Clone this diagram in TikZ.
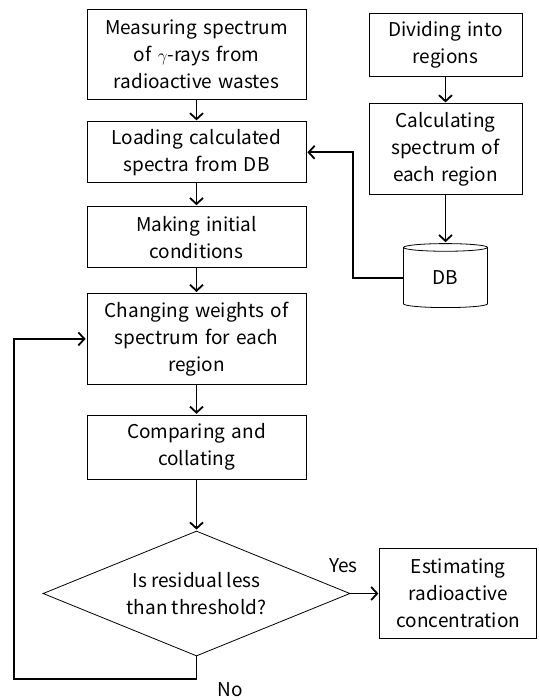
\documentclass[tikz,border=0pt]{standalone}
\usepackage{fontspec}
\setmainfont{Noto Sans CJK JP}
\usetikzlibrary{arrows.meta,shapes.geometric,positioning}

\begin{document}
\begin{tikzpicture}[x=1pt,y=1pt,>={Straight Barb[length=6pt,width=13pt]},
        font=\fontsize{19}{27}\selectfont,
        proc/.style={draw,line width=0.8pt,align=center,inner sep=0pt,
          text width=#1},
        proc/.default=219pt,
        line/.style={->,line width=1.8pt,shorten >=1pt}]

  \useasboundingbox (0,0) rectangle (538,-700);

  % main flow
  \node[proc,minimum height=90pt] (meas) at (196.5,-54)
    {Measuring spectrum\\of~$\gamma$-rays from\\radioactive wastes};
  \node[proc,minimum height=61pt] (load) [below=22pt of meas]
    {Loading calculated\\spectra from DB};
  \node[proc,minimum height=61pt] (init) [below=23pt of load]
    {Making initial\\conditions};
  \node[proc,minimum height=91pt] (chg) [below=25pt of init]
    {Changing weights of\\spectrum for each\\region};
  \node[proc,minimum height=64pt] (cmp) [below=30pt of chg]
    {Comparing and\\collating};
  \node[draw,diamond,aspect=2.46,line width=0.8pt,align=center,inner sep=0pt,
        minimum width=307pt,minimum height=125pt] (dec) [below=51pt of cmp]
    {Is residual less\\than threshold?};
  \node[proc=157pt,minimum height=90pt] (est) [right=29pt of dec]
    {Estimating\\radioactive\\concentration};

  % database branch
  \node[proc=153pt,minimum height=63pt] (div) at (445.5,-44.5)
    {Dividing into\\regions};
  \node[proc=153pt,minimum height=91pt] (calc) [below=27pt of div]
    {Calculating\\spectrum of\\each region};
  \node[draw,cylinder,shape border rotate=90,aspect=0.3,line width=0.8pt,
        minimum width=84pt,minimum height=64pt,inner sep=0pt] (db)
    [below=48pt of calc] {DB};

  \path (meas) edge[line] (load)
        (load) edge[line] (init)
        (init) edge[line] (chg)
        (chg)  edge[line] (cmp)
        (cmp)  edge[line] (dec)
        (div)  edge[line] (calc)
        (calc) edge[line] (db);

  \draw[line] (dec.east) -- node[pos=0,anchor=south,xshift=-7pt,yshift=17pt] {Yes} (est.west);
  \draw[line] (db.west) -- ++(-50,0) |- (load.east);

  % loop back
  \coordinate (back) at (14,-679);
  \draw[line] (dec.south) |- (back) |- (chg.west);
  \node (no) at (230,-690) {No};

\end{tikzpicture}
\end{document}
